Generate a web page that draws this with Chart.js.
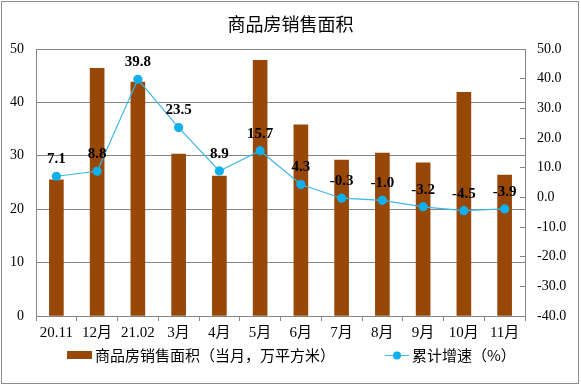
<!DOCTYPE html>
<html>
<head>
<meta charset="utf-8">
<script src="https://cdn.jsdelivr.net/npm/chart.js@4"></script>
<style>
    html, body { margin: 0; padding: 0; background: #fff; }
    #wrap { width: 581px; height: 386px; position: relative; }
</style>
</head>
<body>
<div id="wrap"><canvas id="salesChart" width="581" height="386"></canvas></div>
<script>
// Chart data
const categories = ['20.11', '12月', '21.02', '3月', '4月', '5月', '6月', '7月', '8月', '9月', '10月', '11月'];
const salesArea = [25.5, 46.4, 43.8, 30.3, 26.2, 47.9, 35.8, 29.2, 30.5, 28.7, 41.9, 26.4];
const growthRate = [7.1, 8.8, 39.8, 23.5, 8.9, 15.7, 4.3, -0.3, -1.0, -3.2, -4.5, -3.9];
const leftTicks = [0, 10, 20, 30, 40, 50];
const rightTicks = [-40, -30, -20, -10, 0, 10, 20, 30, 40, 50];

const BAR_COLOR = '#974706';
const LINE_COLOR = '#3db6e8';
const POINT_COLOR = '#0fb0ee';
const GRID_COLOR = '#868686';
const SERIF = '"Liberation Serif", "Times New Roman", "Noto Sans CJK SC", serif';
const CJK = '"Noto Sans CJK SC", sans-serif';

/**
 * Value labels above the line points + outer frame + legend
 */
const decorPlugin = {
    id: 'decor',
    afterDatasetsDraw(chart) {
        const ctx = chart.ctx;
        const meta = chart.getDatasetMeta(1);
        ctx.save();
        ctx.font = 'bold 15px ' + SERIF;
        ctx.fillStyle = '#000';
        ctx.textAlign = 'center';
        ctx.textBaseline = 'middle';
        meta.data.forEach((pt, i) => {
            ctx.fillText(growthRate[i].toFixed(1), pt.x, pt.y - 17);
        });
        ctx.restore();
    },
    afterDraw(chart) {
        const ctx = chart.ctx;
        ctx.save();
        // outer frame
        ctx.strokeStyle = '#8c8c8c';
        ctx.lineWidth = 1;
        ctx.strokeRect(1.5, 1.5, 577, 382);

        // legend
        const ly = 355;
        ctx.fillStyle = BAR_COLOR;
        ctx.fillRect(67, ly - 4, 25, 8);
        ctx.font = '15px ' + CJK;
        ctx.fillStyle = '#000';
        ctx.textBaseline = 'middle';
        ctx.textAlign = 'left';
        ctx.fillText(chart.data.datasets[0].label, 95, ly);

        ctx.strokeStyle = LINE_COLOR;
        ctx.beginPath();
        ctx.moveTo(385, ly + 0.5);
        ctx.lineTo(409, ly + 0.5);
        ctx.stroke();
        ctx.fillStyle = POINT_COLOR;
        ctx.beginPath();
        ctx.arc(397, ly + 0.5, 4, 0, Math.PI * 2);
        ctx.fill();
        ctx.fillStyle = '#000';
        ctx.fillText(chart.data.datasets[1].label, 412, ly);
        ctx.restore();
    }
};

const ctx = document.getElementById('salesChart').getContext('2d');
new Chart(ctx, {
    type: 'bar',
    data: {
        labels: categories,
        datasets: [
            {
                type: 'bar',
                label: '商品房销售面积（当月，万平方米）',
                data: salesArea,
                backgroundColor: BAR_COLOR,
                barThickness: 14,
                yAxisID: 'y',
                order: 2
            },
            {
                type: 'line',
                label: '累计增速（%）',
                data: growthRate,
                borderColor: LINE_COLOR,
                borderWidth: 1.2,
                backgroundColor: POINT_COLOR,
                pointBackgroundColor: POINT_COLOR,
                pointBorderColor: POINT_COLOR,
                pointRadius: 4,
                tension: 0,
                yAxisID: 'y1',
                order: 1
            }
        ]
    },
    options: {
        responsive: false,
        animation: false,
        devicePixelRatio: 1,
        layout: { padding: { left: 0, right: 0, top: 0, bottom: 40 } },
        plugins: {
            legend: { display: false },
            tooltip: { enabled: false },
            title: {
                display: true,
                text: '商品房销售面积',
                color: '#000',
                font: { family: CJK, size: 18, weight: 'normal', lineHeight: 1.2 },
                padding: { top: 13, bottom: 14.4 }
            }
        },
        scales: {
            x: {
                offset: true,
                grid: {
                    offset: true,
                    drawOnChartArea: false,
                    drawTicks: true,
                    tickLength: 5,
                    color: GRID_COLOR
                },
                border: { color: GRID_COLOR },
                ticks: {
                    color: '#000',
                    padding: 3,
                    maxRotation: 0,
                    autoSkip: false,
                    font: { family: SERIF, size: 15 }
                },
                afterFit(scale) { scale.height = 30; }
            },
            y: {
                position: 'left',
                min: 0,
                max: 50,
                afterBuildTicks(scale) { scale.ticks = leftTicks.map(v => ({ value: v })); },
                grid: { color: GRID_COLOR, drawTicks: false },
                border: { color: GRID_COLOR },
                ticks: {
                    color: '#000',
                    padding: 12,
                    font: { family: SERIF, size: 14 }
                },
                afterFit(scale) { scale.width = 36; }
            },
            y1: {
                position: 'right',
                min: -40,
                max: 50,
                afterBuildTicks(scale) { scale.ticks = rightTicks.map(v => ({ value: v })); },
                grid: {
                    drawOnChartArea: false,
                    drawTicks: true,
                    tickLength: -5,
                    color: GRID_COLOR
                },
                border: { color: GRID_COLOR },
                ticks: {
                    color: '#000',
                    padding: 17,
                    font: { family: SERIF, size: 14 },
                    callback: value => Number(value).toFixed(1)
                },
                afterFit(scale) { scale.width = 56; }
            }
        }
    },
    plugins: [decorPlugin]
});
</script>
</body>
</html>
